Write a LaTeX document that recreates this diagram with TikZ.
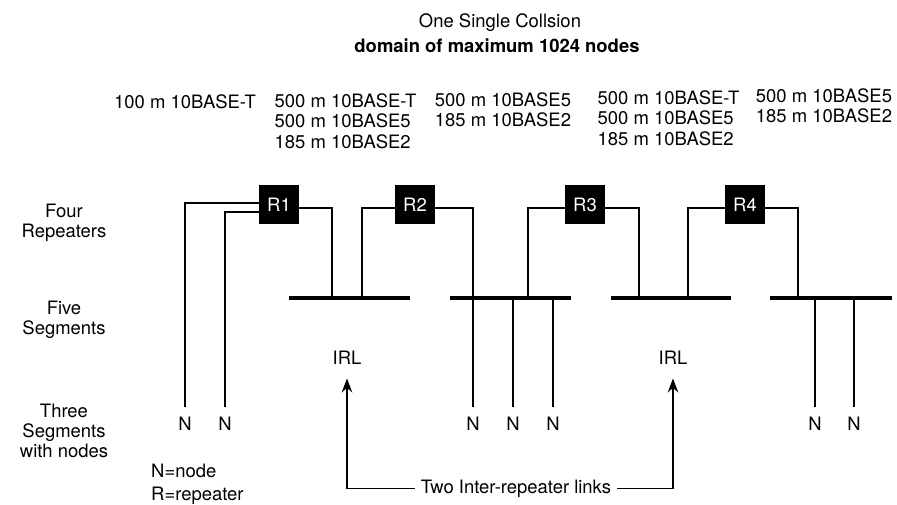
\documentclass[tikz,border=0pt]{standalone}
\usepackage{fontspec}
\setmainfont{TeX Gyre Heros}
\usetikzlibrary{arrows.meta, positioning}

\begin{document}
\begin{tikzpicture}[>={Stealth[length=8pt, width=6pt]}, font=\fontsize{10.5}{11.6}\selectfont,
  rep/.style={fill=black, text=white, minimum width=0.8cm, minimum height=0.78cm, inner sep=0pt},
  wire/.style={line width=1pt},
  seg/.style={line width=1.9pt},
  nlabel/.style={inner sep=0pt, outer sep=0pt},
  drop/.style={wire, shorten >=0.2cm}]
  \useasboundingbox (0,0) rectangle (17.94,10.1);

  % Title
  \node (title) at (10.0, 9.64) {One Single Collsion};
  \node[font=\fontsize{10.5}{11.6}\selectfont\bfseries] (subtitle) at (9.94, 9.18) {domain of maximum 1024 nodes};

  % Cable types
  \node (c1) at (3.7, 8.06) {100 m 10BASE-T};
  \node[align=left] (c2) at (6.91, 7.68) {500 m 10BASE-T\\500 m 10BASE5\\185 m 10BASE2};
  \node[align=left] (c3) at (10.06, 7.9) {500 m 10BASE5\\185 m 10BASE2};
  \node[align=left] (c4) at (13.37, 7.74) {500 m 10BASE-T\\500 m 10BASE5\\185 m 10BASE2};
  \node[align=left] (c5) at (16.48, 7.98) {500 m 10BASE5\\185 m 10BASE2};

  % Row labels
  \node[align=center] (lrep) at (1.28, 5.64) {Four\\Repeaters};
  \node[align=center] (lseg) at (1.28, 3.7) {Five\\Segments};
  \node[align=center] (lnod) at (1.28, 1.48) {Three\\Segments\\with nodes};

  % Repeaters
  \node[rep] (R1) at (5.58, 6.0) {R1};
  \node[rep] (R2) at (8.3, 6.0) {R2};
  \node[rep] (R3) at (11.7, 6.0) {R3};
  \node[rep] (R4) at (14.9, 6.0) {R4};

  % Segments
  \coordinate (s1a) at (5.78, 4.14);  \coordinate (s1b) at (8.2, 4.14);
  \coordinate (s2a) at (9.0, 4.14);   \coordinate (s2b) at (11.42, 4.14);
  \coordinate (s3a) at (12.22, 4.14); \coordinate (s3b) at (14.62, 4.14);
  \coordinate (s4a) at (15.4, 4.14);  \coordinate (s4b) at (17.84, 4.14);
  \draw[seg] (s1a) -- (s1b);
  \draw[seg] (s2a) -- (s2b);
  \draw[seg] (s3a) -- (s3b);
  \draw[seg] (s4a) -- (s4b);

  % Taps on the segments
  \coordinate (t1) at (6.64, 4.14);
  \coordinate (t2) at (7.24, 4.14);
  \coordinate (t3) at (9.46, 4.14);
  \coordinate (t4) at (10.56, 4.14);
  \coordinate (t5) at (12.78, 4.14);
  \coordinate (t6) at (13.76, 4.14);
  \coordinate (t7) at (15.96, 4.14);

  % Nodes
  \node[nlabel] (n1) at (3.7, 1.62) {N};
  \node[nlabel] (n2) at (4.5, 1.62) {N};
  \node[nlabel] (n3) at (9.46, 1.62) {N};
  \node[nlabel] (n4) at (10.26, 1.62) {N};
  \node[nlabel] (n5) at (11.06, 1.62) {N};
  \node[nlabel] (n6) at (16.3, 1.62) {N};
  \node[nlabel] (n7) at (17.08, 1.62) {N};

  % Wiring
  \draw[drop] ([yshift=1pt]R1.west) -| (n1);
  \draw[drop] ([yshift=-4pt]R1.west) -| (n2);
  \draw[wire] ([yshift=-1.5pt]R1.east) -| (t1);
  \draw[wire] ([yshift=-1.5pt]R2.west) -| (t2);
  \draw[wire] ([yshift=-1.5pt]R2.east) -| (t3);
  \draw[wire] ([yshift=-1.5pt]R3.west) -| (t4);
  \draw[wire] ([yshift=-1.5pt]R3.east) -| (t5);
  \draw[wire] ([yshift=-1.5pt]R4.west) -| (t6);
  \draw[wire] ([yshift=-1.5pt]R4.east) -| (t7);
  \draw[drop] (t3) -- (n3);
  \draw[drop] (10.26, 4.14) -- (n4);
  \draw[drop] (11.06, 4.14) -- (n5);
  \draw[drop] (16.3, 4.14) -- (n6);
  \draw[drop] (17.08, 4.14) -- (n7);

  % Inter-repeater links
  \node (irl1) at (6.94, 2.94) {IRL};
  \node (irl2) at (13.46, 2.94) {IRL};
  \node (links) at (10.32, 0.33) {Two Inter-repeater links};
  \draw[wire, ->, shorten >=0.15cm] (links.west) -| (irl1);
  \draw[wire, ->, shorten >=0.15cm] (links.east) -| (irl2);

  % Legend
  \node[align=left, anchor=west] (legend) at (2.9, 0.41) {N=node\\[1.4pt]R=repeater};
\end{tikzpicture}
\end{document}
